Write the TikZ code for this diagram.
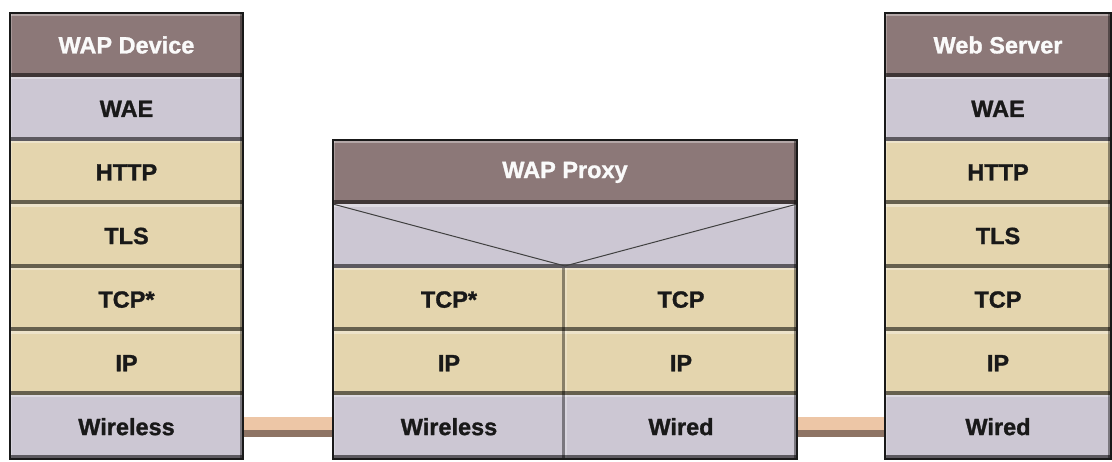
\documentclass[tikz,border=0pt]{standalone}
\usepackage{fontspec}
\setmainfont{Liberation Sans}
\newfontfamily\labfont[FakeBold=1.2]{Liberation Sans}
\begin{document}
\begin{tikzpicture}[x=1pt,y=-1pt,
  cell/.style={rectangle, inner sep=0pt, minimum height=63.6pt, draw=none,
    font=\labfont\bfseries\fontsize{23.5}{25}\selectfont, text=black!90,
    path picture={
      \fill[white,opacity=0.35] (path picture bounding box.north west) rectangle ([yshift=-2.5pt]path picture bounding box.north east);
      \fill[white,opacity=0.25] (path picture bounding box.north west) rectangle ([xshift=2pt]path picture bounding box.south west);
      \fill[black,opacity=0.55] ([yshift=4pt]path picture bounding box.south west) rectangle (path picture bounding box.south east);
      \fill[black,opacity=0.40] ([xshift=-3.5pt]path picture bounding box.north east) rectangle (path picture bounding box.south east);
    }},
  hdr/.style={cell, fill=hdrc, text=white!96!hdrc},
  lav/.style={cell, fill=lavc},
  bei/.style={cell, fill=beic},
  frame/.style={draw=black!90, line width=2.2pt},
  barbase/.style={line width=20pt, draw=barshade},
  bartop/.style={line width=13pt, draw=barc},
  tri/.style={draw=black!75, line width=1pt}
]
\definecolor{hdrc}{HTML}{8C7878}
\definecolor{lavc}{HTML}{CCC7D3}
\definecolor{beic}{HTML}{E4D5AE}
\definecolor{barc}{HTML}{EDC6A6}
\definecolor{barshade}{HTML}{8E7464}
\useasboundingbox (0,0) rectangle (1112,462);
\fill[white] (0,0) rectangle (1112,462);

% Left stack: WAP Device
\node[hdr, minimum width=233pt] (lh) at (126.5,45) {WAP Device};
\node[lav, minimum width=233pt] (l1) at (126.5,108.8) {WAE};
\node[bei, minimum width=233pt] (l2) at (126.5,172.4) {HTTP};
\node[bei, minimum width=233pt] (l3) at (126.5,236) {TLS};
\node[bei, minimum width=233pt] (l4) at (126.5,299.6) {TCP*};
\node[bei, minimum width=233pt] (l5) at (126.5,363.2) {IP};
\node[lav, minimum width=233pt] (l6) at (126.5,426.7) {Wireless};
\draw[frame] (lh.north west) rectangle (l6.south east);

% Middle stack: WAP Proxy
\node[hdr, minimum width=464pt] (mh) at (565,172.4) {WAP Proxy};
\node[lav, minimum width=464pt] (mt) at (565,236) {};
\draw[tri] (mt.north west) -- ([yshift=2pt]mt.south) -- (mt.north east);
\node[bei, minimum width=232pt] (ma4) at (449,299.6) {TCP*};
\node[bei, minimum width=232pt] (mb4) at (681,299.6) {TCP};
\node[bei, minimum width=232pt] (ma5) at (449,363.2) {IP};
\node[bei, minimum width=232pt] (mb5) at (681,363.2) {IP};
\node[lav, minimum width=232pt] (ma6) at (449,426.7) {Wireless};
\node[lav, minimum width=232pt] (mb6) at (681,426.7) {Wired};
\draw[frame] (mh.north west) rectangle (mb6.south east);

% Right stack: Web Server
\node[hdr, minimum width=226pt] (rh) at (998,45) {Web Server};
\node[lav, minimum width=226pt] (r1) at (998,108.8) {WAE};
\node[bei, minimum width=226pt] (r2) at (998,172.4) {HTTP};
\node[bei, minimum width=226pt] (r3) at (998,236) {TLS};
\node[bei, minimum width=226pt] (r4) at (998,299.6) {TCP};
\node[bei, minimum width=226pt] (r5) at (998,363.2) {IP};
\node[lav, minimum width=226pt] (r6) at (998,426.7) {Wired};
\draw[frame] (rh.north west) rectangle (r6.south east);

% Connectors
\draw[barbase] ([xshift=1.1pt]l6.east) -- ([xshift=-1.1pt]ma6.west);
\draw[bartop] ([xshift=1.1pt,yshift=3.5pt]l6.east) -- ([xshift=-1.1pt,yshift=3.5pt]ma6.west);
\draw[barbase] ([xshift=1.1pt]mb6.east) -- ([xshift=-1.1pt]r6.west);
\draw[bartop] ([xshift=1.1pt,yshift=3.5pt]mb6.east) -- ([xshift=-1.1pt,yshift=3.5pt]r6.west);
\end{tikzpicture}
\end{document}
